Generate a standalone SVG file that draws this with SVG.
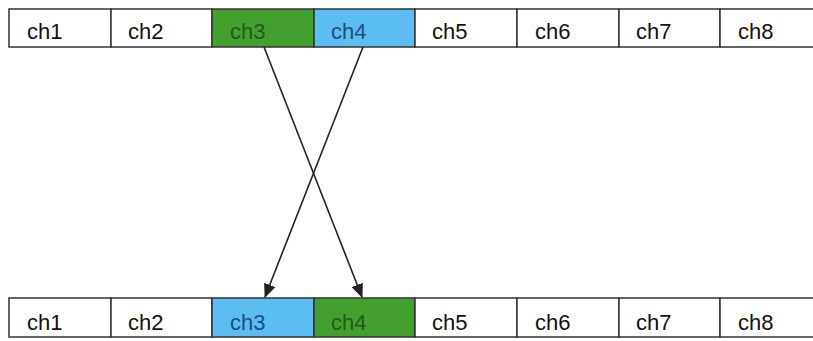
<svg xmlns="http://www.w3.org/2000/svg" width="813" height="341" viewBox="0 0 813 341">
<style>
.c{stroke:#333;stroke-width:1.5}
.w{fill:#fff}
.g{fill:#43a02f}
.b{fill:#5bbdf2}
.t{font-family:"Liberation Sans","Noto Sans CJK JP",sans-serif;font-size:22px;fill:#111}
.tg{fill:#1f5c1a}
.tb{fill:#1d4f80}
.ln{stroke:#222;stroke-width:1.6;fill:none}
</style>
<defs>
<marker id="ah" markerWidth="14" markerHeight="12" refX="13" refY="6" orient="auto" markerUnits="userSpaceOnUse">
<path d="M0,0 L14,6 L0,12 z" fill="#222"/>
</marker>
</defs>
<rect width="813" height="341" fill="#fff"/>
<g id="top-row">
<g id="top-ch1"><rect class="c w" x="9" y="9" width="102" height="38"/><text class="t" x="27" y="39">ch1</text></g>
<g id="top-ch2"><rect class="c w" x="111" y="9" width="101" height="38"/><text class="t" x="128" y="39">ch2</text></g>
<g id="top-ch3"><rect class="c g" x="212" y="9" width="102" height="38"/><text class="t tg" x="230" y="39">ch3</text></g>
<g id="top-ch4"><rect class="c b" x="314" y="9" width="101" height="38"/><text class="t tb" x="331" y="39">ch4</text></g>
<g id="top-ch5"><rect class="c w" x="415" y="9" width="102" height="38"/><text class="t" x="432" y="39">ch5</text></g>
<g id="top-ch6"><rect class="c w" x="517" y="9" width="102" height="38"/><text class="t" x="535" y="39">ch6</text></g>
<g id="top-ch7"><rect class="c w" x="619" y="9" width="101" height="38"/><text class="t" x="636" y="39">ch7</text></g>
<g id="top-ch8"><path class="c w" d="M813,9 H720 V47 H813"/><text class="t" x="738" y="39">ch8</text></g>
</g>
<g id="bottom-row">
<g id="bot-ch1"><rect class="c w" x="9" y="298" width="102" height="39"/><text class="t" x="27" y="330">ch1</text></g>
<g id="bot-ch2"><rect class="c w" x="111" y="298" width="101" height="39"/><text class="t" x="128" y="330">ch2</text></g>
<g id="bot-ch3"><rect class="c b" x="212" y="298" width="102" height="39"/><text class="t tb" x="230" y="330">ch3</text></g>
<g id="bot-ch4"><rect class="c g" x="314" y="298" width="101" height="39"/><text class="t tg" x="331" y="330">ch4</text></g>
<g id="bot-ch5"><rect class="c w" x="415" y="298" width="102" height="39"/><text class="t" x="432" y="330">ch5</text></g>
<g id="bot-ch6"><rect class="c w" x="517" y="298" width="102" height="39"/><text class="t" x="535" y="330">ch6</text></g>
<g id="bot-ch7"><rect class="c w" x="619" y="298" width="101" height="39"/><text class="t" x="636" y="330">ch7</text></g>
<g id="bot-ch8"><path class="c w" d="M813,298 H720 V337 H813"/><text class="t" x="738" y="330">ch8</text></g>
</g>
<g id="connectors">
<line class="ln" x1="264" y1="47" x2="362" y2="297" marker-end="url(#ah)"/>
<line class="ln" x1="363" y1="47" x2="265" y2="297" marker-end="url(#ah)"/>
</g>
</svg>
